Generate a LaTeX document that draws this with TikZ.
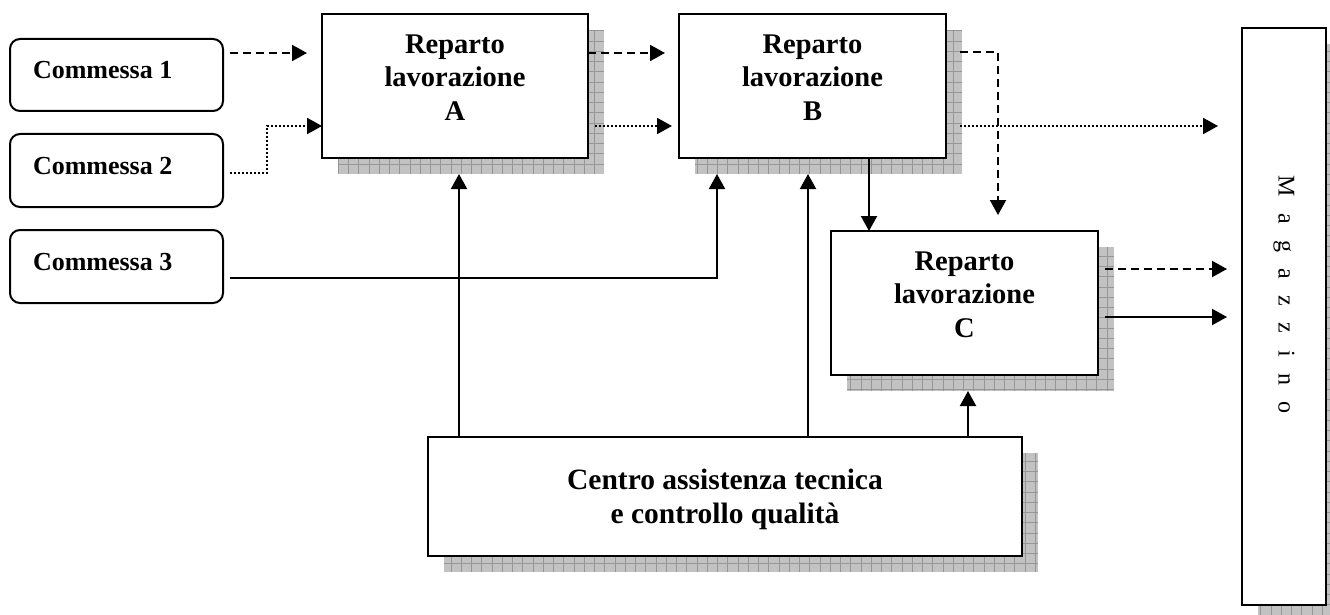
\documentclass[tikz,border=0pt]{standalone}
\usepackage{fontspec}
\setmainfont{Liberation Serif}
\usetikzlibrary{arrows.meta,calc,backgrounds}
\definecolor{shfill}{RGB}{194,194,194}
\definecolor{shline}{RGB}{150,150,150}
\tikzset{
  box/.style={draw, line width=2pt, fill=white, inner sep=0pt, outer sep=0pt, anchor=north west},
  cbox/.style={box, rounded corners=10pt, font=\bfseries\fontsize{26}{30}\selectfont, text depth=10pt},
  rep/.style={box, font=\bfseries\fontsize{28.5}{33.5}\selectfont, align=center, text depth=17pt},
  conn/.style={line width=2pt, -{Triangle[length=15pt,width=16pt]}},
  dsh/.style={dash pattern=on 8pt off 5pt},
  dtt/.style={dash pattern=on 2pt off 2pt},
}
\newcommand{\dropgrid}[1]{%
  \begin{scope}
    \clip ($(#1.north west)+(16,16)$) rectangle ($(#1.south east)+(16,16)$);
    \fill[shfill] ($(#1.north west)+(16,16)$) rectangle ($(#1.south east)+(16,16)$);
    \draw[shline, line width=0.8pt, step=10.25pt] ($(#1.north west)+(16,16)$) grid ($(#1.south east)+(16,16)$);
  \end{scope}}
\begin{document}
\begin{tikzpicture}[x=1pt, y=-1pt]
\useasboundingbox (0,0) rectangle (1330,615);
% order boxes
\node[cbox, minimum width=213pt, minimum height=72pt] (C1) at (10,39) {\makebox[167pt][l]{Commessa 1}};
\node[cbox, minimum width=213pt, minimum height=73pt] (C2) at (10,134) {\makebox[167pt][l]{Commessa 2}};
\node[cbox, minimum width=213pt, minimum height=73pt] (C3) at (10,230) {\makebox[167pt][l]{Commessa 3}};
% departments
\node[rep, minimum width=266pt, minimum height=144pt] (A) at (322,14) {Reparto\\lavorazione\\A};
\node[rep, minimum width=267pt, minimum height=144pt] (B) at (679,14) {Reparto\\lavorazione\\B};
\node[rep, minimum width=267pt, minimum height=144pt] (Cc) at (831,231) {Reparto\\lavorazione\\C};
\node[box, minimum width=594pt, minimum height=119pt, font=\bfseries\fontsize{29.5}{34}\selectfont, align=center, text depth=0pt] (Z) at (428,437) {Centro assistenza tecnica\\e controllo qualità};
\node[box, minimum width=84pt, minimum height=577pt, font=\fontsize{24}{28}\selectfont] (M) at (1242,28) {\rotatebox{-90}{\spaceskip=16.5pt M a g a z z i n o\hspace{44pt}}};
% shadows
\begin{pgfonlayer}{background}
  \dropgrid{A}
  \dropgrid{B}
  \dropgrid{Cc}
  \dropgrid{Z}
  \dropgrid{M}
\end{pgfonlayer}
% connectors
\draw[conn, dsh] ($(C1.north east)+(7,14)$) -- ($(A.north west)+(-15,39)$);
\draw[conn, dtt] ($(C2.north east)+(7,39)$) -| ($(A.north west)+(-55,112)$) -- ($(A.north west)+(0,112)$);
\draw[conn] ($(C3.north east)+(7,48)$) -| ($(B.south west)+(38,16)$);
\draw[conn] ($(Z.north west)+(31,0)$) -- ($(A.south west)+(137,16)$);
\draw[conn] ($(Z.north west)+(380,0)$) -- ($(B.south west)+(129,16)$);
\draw[conn] ($(Z.north west)+(540,0)$) -- ($(Cc.south west)+(137,16)$);
\draw[conn, dsh] ($(A.north east)+(0,39)$) -- ($(B.north west)+(-14,39)$);
\draw[conn, dtt] ($(A.north east)+(7,112)$) -- ($(B.north west)+(-7,112)$);
\draw[conn, dsh] ($(B.north east)+(14,38)$) -| ($(Cc.north west)+(167,-16)$);
\draw[conn, dtt] ($(B.north east)+(14,112)$) -- ($(M.north west)+(-24,98)$);
\draw[conn] ($(B.south west)+(190,0)$) -- ($(Cc.north west)+(38,0)$);
\draw[conn, dsh] ($(Cc.north east)+(7,38)$) -- ($(M.north west)+(-15,241)$);
\draw[conn] ($(Cc.north east)+(7,86)$) -- ($(M.north west)+(-15,289)$);
\end{tikzpicture}
\end{document}
